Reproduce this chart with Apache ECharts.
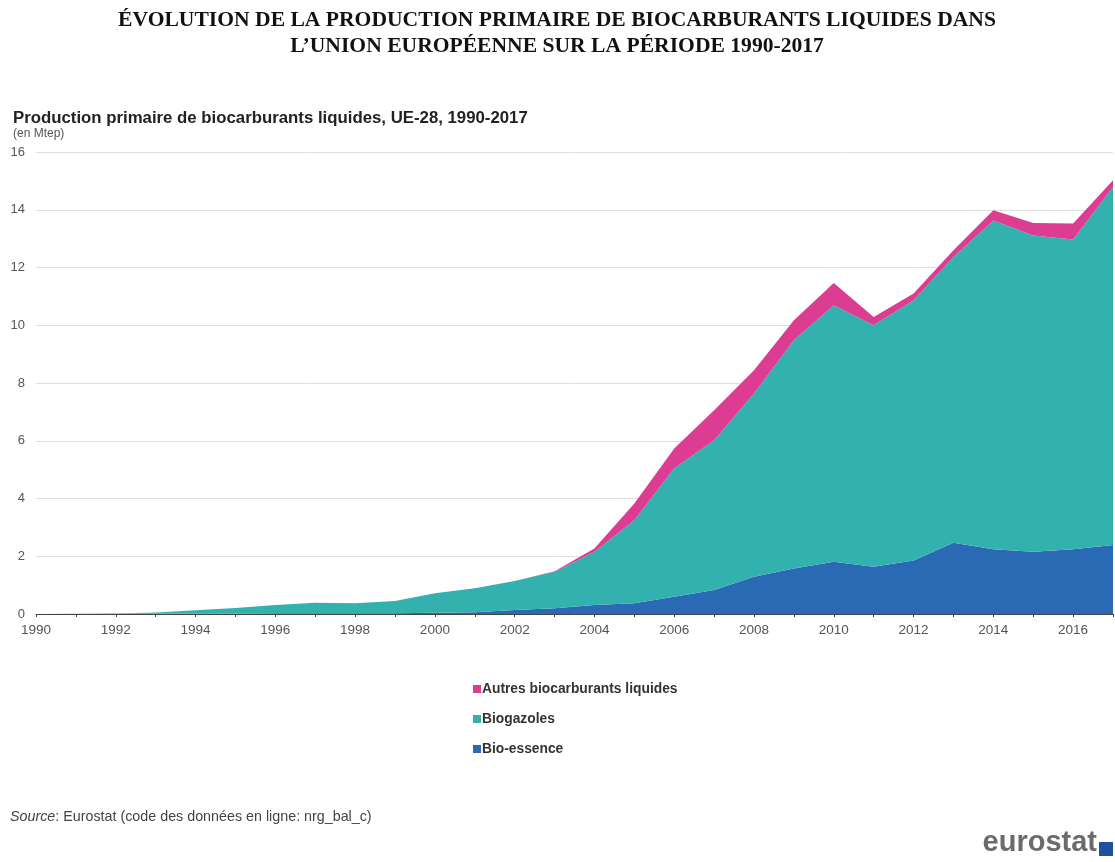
<!DOCTYPE html>
<html>
<head>
<meta charset="utf-8">
<script src="https://cdn.jsdelivr.net/npm/echarts@6/dist/echarts.min.js"></script>
<style>html,body{margin:0;padding:0;background:#fff;}#c{width:1115px;height:862px;}</style>
</head>
<body>
<div id="c"></div>
<script>
var years = ['1990','1991','1992','1993','1994','1995','1996','1997','1998','1999','2000','2001','2002','2003','2004','2005','2006','2007','2008','2009','2010','2011','2012','2013','2014','2015','2016','2017'];
var bioEssence = [0,0,0.01,0.01,0.02,0.02,0.03,0.03,0.03,0.03,0.04,0.06,0.14,0.2,0.31,0.37,0.6,0.83,1.29,1.58,1.81,1.64,1.85,2.47,2.24,2.16,2.24,2.39];
var biogazoles = [0,0.01,0.01,0.04,0.11,0.19,0.28,0.36,0.34,0.42,0.68,0.83,1.0,1.26,1.85,2.88,4.45,5.19,6.35,7.9,8.88,8.36,9.02,9.89,11.39,10.95,10.73,12.4];
var autres = [0,0,0,0,0,0,0,0,0,0,0,0,0,0.02,0.11,0.58,0.68,1.04,0.8,0.69,0.77,0.29,0.23,0.24,0.35,0.43,0.55,0.23];
var seriesNames = ['Autres biocarburants liquides','Biogazoles','Bio-essence'];
var yTicks = {min:0, max:16, interval:2};

var colors = {autres:'#DC3C91', biog:'#33B1AE', bioe:'#2A69B3'};
var chart = echarts.init(document.getElementById('c'));
function area(name, data, color){
  return {name:name, type:'line', stack:'t', data:data, symbol:'none', smooth:false,
    lineStyle:{width:0}, areaStyle:{color:color, opacity:1}, itemStyle:{color:color}, z:2};
}
chart.setOption({
  animation:false,
  backgroundColor:'#fff',
  title:[
    {text:'Production primaire de biocarburants liquides, UE-28, 1990-2017',
     subtext:'(en Mtep)', left:8, top:105, itemGap:1,
     textStyle:{fontFamily:'Liberation Sans', fontWeight:'bold', fontSize:16.8, color:'#222'},
     subtextStyle:{fontFamily:'Liberation Sans', fontSize:12, color:'#555'}}
  ],
  grid:{left:36, right:2, top:152, bottom:248, containLabel:false},
  legend:{
    orient:'vertical', left:468, top:677, itemGap:16, itemWidth:8, itemHeight:8, icon:'rect',
    data:seriesNames,
    textStyle:{fontFamily:'Liberation Sans', fontWeight:'bold', fontSize:13.8, color:'#333', padding:[0,0,0,-4]}
  },
  xAxis:{
    type:'category', data:years, boundaryGap:false,
    axisLine:{lineStyle:{color:'#444', width:1}},
    axisTick:{show:true, interval:0, length:3, lineStyle:{color:'#444'}},
    axisLabel:{interval:1, color:'#555', fontFamily:'Liberation Sans', fontSize:13.5, margin:9},
    splitLine:{show:false}
  },
  yAxis:{
    type:'value', min:yTicks.min, max:yTicks.max, interval:yTicks.interval,
    axisLine:{show:false}, axisTick:{show:false},
    axisLabel:{color:'#555', fontFamily:'Liberation Sans', fontSize:13, margin:11},
    splitLine:{lineStyle:{color:'#dedede', width:1}}
  },
  series:[
    area('Bio-essence', bioEssence, colors.bioe),
    area('Biogazoles', biogazoles, colors.biog),
    area('Autres biocarburants liquides', autres, colors.autres)
  ],
  graphic:[
    {type:'text', x:557, y:7, style:{
      text:'ÉVOLUTION DE LA PRODUCTION PRIMAIRE DE BIOCARBURANTS LIQUIDES DANS\nL\u2019UNION EUROPÉENNE SUR LA PÉRIODE 1990-2017',
      align:'center', verticalAlign:'top', lineHeight:26,
      fontFamily:'Liberation Serif', fontWeight:'bold', fontSize:21.6, fill:'#111'}},
    {type:'text', left:10, top:810, style:{
      text:'{i|Source}: Eurostat (code des données en ligne: nrg_bal_c)',
      rich:{i:{fontStyle:'italic', fontFamily:'Liberation Sans', fontSize:14.3, fill:'#444'}},
      fontFamily:'Liberation Sans', fontSize:14.3, fill:'#444'}},
    {type:'text', x:1097, y:857, style:{text:'eurostat', align:'right', verticalAlign:'bottom',
      fontFamily:'Liberation Sans', fontWeight:'bold', fontSize:29, fill:'#6b6b6b'}},
    {type:'rect', x:1099, y:842, shape:{width:14, height:14}, style:{fill:'#1f4fa0'}}
  ]
});
</script>
</body>
</html>
